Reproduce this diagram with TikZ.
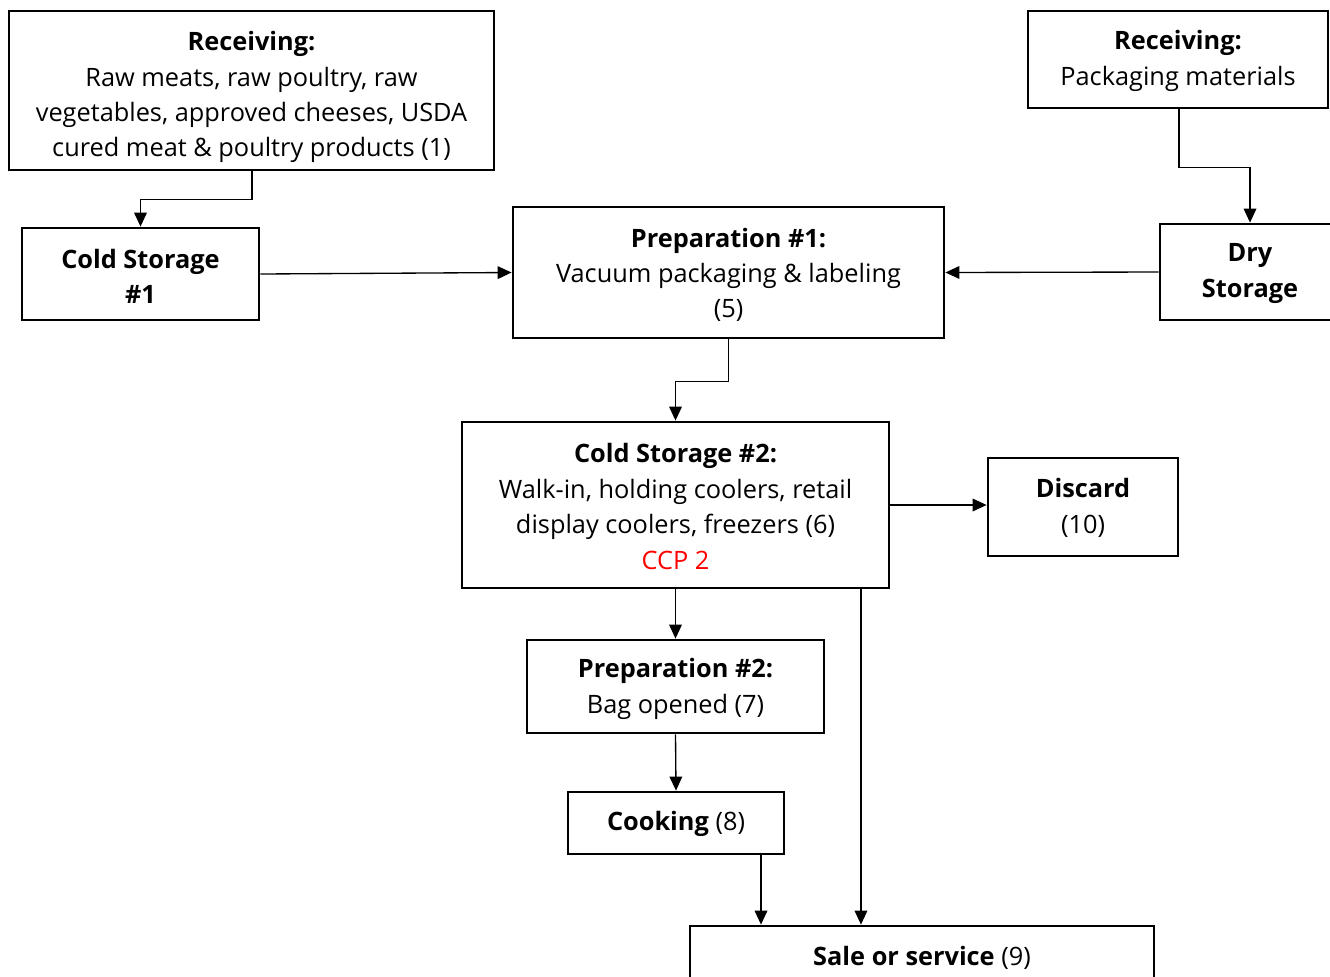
\documentclass[tikz,border=0pt]{standalone}
\usepackage{fontspec}
\setmainfont{Open Sans}
\usetikzlibrary{arrows.meta,positioning}
\tikzset{
  box/.style 2 args={draw, line width=2.1pt, inner sep=0pt,
    minimum width=#1*0.75pt, minimum height=#2*0.75pt},
  txt/.style={inner sep=0pt, align=center, font=\fontsize{19}{26.6}\selectfont},
  arr/.style={line width=1pt, -{Triangle[length=10.5pt,width=9.5pt]}},
}
\begin{document}
\begin{tikzpicture}[x=0.75pt,y=-0.75pt]
\useasboundingbox (0,0) rectangle (1330,976);
\clip (0,0) rectangle (1330,976);
\fill[white] (0,0) rectangle (1330,976);

\node[box={485}{159}] (rec1) at (251.5,90.5) {};
\node[txt] (rec1t) at ([yshift=-5pt]rec1.center) {\textbf{Receiving:}\\Raw meats, raw poultry, raw\\vegetables, approved cheeses, USDA\\cured meat \& poultry products (1)};
\node[box={237}{92}] (cold1) at (140.5,274) {};
\node[txt] (cold1t) at ([yshift=-1.8pt]cold1.center) {\textbf{Cold Storage}\\\textbf{\#1}};
\node[box={431}{131}] (prep1) at (728.5,272.5) {};
\node[txt] (prep1t) at ([yshift=-1.8pt]prep1.center) {\textbf{Preparation \#1:}\\Vacuum packaging \& labeling\\(5)};
\node[box={300}{97}] (rec2) at (1178,59.5) {};
\node[txt] (rec2t) at ([yshift=-1pt]rec2.center) {\textbf{Receiving:}\\Packaging materials};
\node[box={180}{96}] (dry) at (1250,272) {};
\node[txt] (dryt) at ([yshift=-1pt]dry.center) {\textbf{Dry}\\\textbf{Storage}};
\node[box={427}{166}] (cold2) at (675.5,505) {};
\node[txt] (cold2t) at ([yshift=-1.2pt]cold2.center) {\textbf{Cold Storage \#2:}\\Walk-in, holding coolers, retail\\display coolers, freezers (6)\\\textcolor{red}{CCP 2}};
\node[box={190}{98}] (discard) at (1083,507) {};
\node[txt] (discardt) at ([yshift=-0.5pt]discard.center) {\textbf{Discard}\\(10)};
\node[box={297}{93}] (prep2) at (675.5,686.5) {};
\node[txt] (prep2t) at ([yshift=-1.8pt]prep2.center) {\textbf{Preparation \#2:}\\Bag opened (7)};
\node[box={216}{62}] (cook) at (676,823) {};
\node[txt] (cookt) at ([yshift=-0.5pt]cook.center) {\textbf{Cooking} (8)};
\node[box={464}{62}] (sale) at (922,957) {};
\node[txt] (salet) at ([yshift=-0.5pt]sale.center) {\textbf{Sale or service} (9)};

\draw[arr] ([xshift=0.4pt]rec1.south) -- ++(0,28) -| (cold1.north);
\draw[arr] (cold1.east) -- (prep1.west);
\draw[arr] ([xshift=0.75pt]rec2.south) -- ++(0,58) -| (dry.north);
\draw[arr] (dry.west) -- (prep1.east);
\draw[arr] (prep1.south) -- ++(0,42) -| (cold2.north);
\draw[arr] (cold2.east) -- (cold2.east -| discard.west);
\draw[arr] (cold2.south) -- (prep2.north);
\draw[arr] (prep2.south) -- (cook.north);
\draw[arr] ([xshift=63.75pt]cook.south) -- ([xshift=63.75pt]cook.south |- sale.north);
\draw[arr] ([xshift=139.1pt]cold2.south) -- ([xshift=139.1pt]cold2.south |- sale.north);
\end{tikzpicture}
\end{document}
